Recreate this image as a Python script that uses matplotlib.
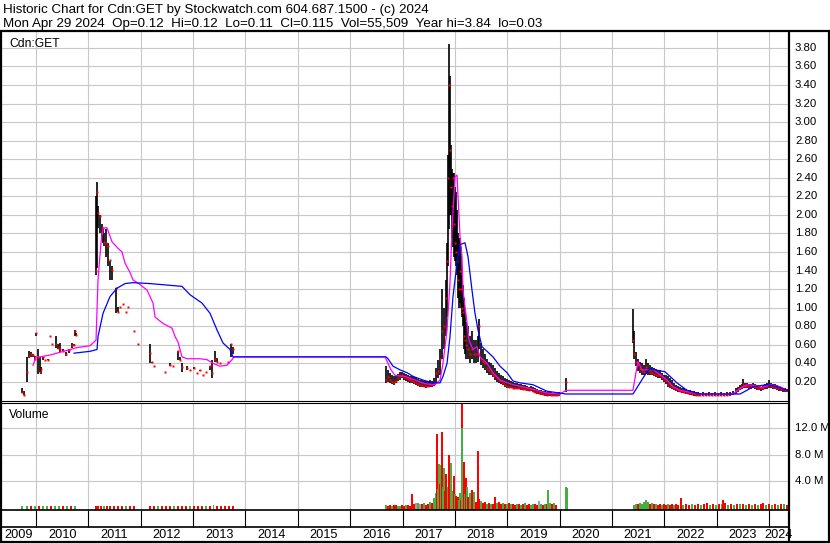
import numpy as np
import matplotlib
matplotlib.use("Agg")
import matplotlib.pyplot as plt
from matplotlib.lines import Line2D

plt.rcParams["font.family"] = ["Liberation Sans", "DejaVu Sans"]

W, H = 830, 543

# ---------- data (decimal years, prices in $, volume in millions) ----------
bar_year = [
    2009.733, 2009.771, 2009.828, 2009.866, 2009.905, 2009.943, 2009.981, 2010.000,
    2010.038, 2010.076, 2010.095, 2010.134, 2010.172, 2010.229, 2010.267, 2010.305,
    2010.382, 2010.420, 2010.458, 2010.516, 2010.573, 2010.630, 2010.687, 2010.725,
    2010.745, 2010.764,
    2011.146, 2011.165, 2011.184, 2011.222, 2011.261, 2011.280, 2011.299, 2011.337,
    2011.375, 2011.413, 2011.452, 2011.528, 2011.566, 2011.604, 2011.662, 2011.719,
    2011.757, 2011.872, 2011.948,
    2012.177, 2012.216, 2012.254, 2012.464, 2012.559, 2012.616, 2012.712, 2012.750,
    2012.788, 2012.884, 2012.941, 2013.018, 2013.075, 2013.132, 2013.190, 2013.247,
    2013.323, 2013.361, 2013.419, 2013.457, 2013.514, 2013.667, 2013.724, 2013.762,
    2016.685, 2016.723, 2016.761, 2016.799, 2016.837, 2016.876, 2016.914, 2016.952,
    2016.990, 2017.028, 2017.067, 2017.105, 2017.143, 2017.181, 2017.219, 2017.258,
    2017.296, 2017.334, 2017.372, 2017.410, 2017.449, 2017.487, 2017.525, 2017.563,
    2017.601, 2017.640, 2017.678, 2017.716, 2017.754, 2017.792, 2017.831, 2017.850,
    2017.869, 2017.888, 2017.907, 2017.926, 2017.945, 2017.964, 2017.983, 2018.003,
    2018.022, 2018.041, 2018.060, 2018.079, 2018.098, 2018.117, 2018.136, 2018.155,
    2018.174, 2018.194, 2018.213, 2018.251, 2018.289, 2018.327, 2018.365, 2018.404,
    2018.442, 2018.461, 2018.499, 2018.537, 2018.575, 2018.614, 2018.652, 2018.690,
    2018.728, 2018.766, 2018.805, 2018.843, 2018.881, 2018.919, 2018.957, 2018.996,
    2019.034, 2019.072, 2019.110, 2019.148, 2019.187, 2019.225, 2019.263, 2019.301,
    2019.339, 2019.378, 2019.416, 2019.454, 2019.492, 2019.530, 2019.569, 2019.607,
    2019.645, 2019.683, 2019.721, 2019.760, 2019.798, 2019.836, 2019.874, 2019.912,
    2019.950, 2019.989, 2020.122,
    2021.402, 2021.421, 2021.459, 2021.497, 2021.536, 2021.574, 2021.612, 2021.650,
    2021.688, 2021.727, 2021.765, 2021.803, 2021.841, 2021.880, 2021.918, 2021.956,
    2021.994, 2022.032, 2022.071, 2022.109, 2022.147, 2022.185, 2022.223, 2022.262,
    2022.300, 2022.338, 2022.376, 2022.414, 2022.453, 2022.491, 2022.529, 2022.567,
    2022.605, 2022.644, 2022.682, 2022.739, 2022.796, 2022.854, 2022.911, 2022.968,
    2023.026, 2023.083, 2023.140, 2023.197, 2023.255, 2023.312, 2023.369, 2023.407,
    2023.446, 2023.484, 2023.503, 2023.541, 2023.579, 2023.617, 2023.656, 2023.694,
    2023.732, 2023.770, 2023.809, 2023.847, 2023.885, 2023.923, 2023.961, 2024.000,
    2024.038, 2024.076, 2024.114, 2024.152, 2024.191, 2024.229, 2024.267, 2024.305,
    2024.343,
]
bar_hi = [
    0.13, 0.10, 0.47, 0.53, 0.52, 0.50, 0.48, 0.73,
    0.56, 0.47, 0.36, 0.47, 0.44, 0.45, 0.70, 0.61,
    0.70, 0.61, 0.62, 0.55, 0.52, 0.55, 0.62, 0.61,
    0.76, 0.73,
    2.20, 2.36, 2.10, 2.00, 1.90, 1.86, 1.80, 1.85,
    1.70, 1.50, 1.45, 1.21, 1.01, 1.01, 1.04, 0.95,
    1.01, 0.75, 0.61,
    0.61, 0.41, 0.37, 0.31, 0.40, 0.37, 0.53, 0.47,
    0.40, 0.37, 0.33, 0.36, 0.30, 0.33, 0.28, 0.31,
    0.37, 0.44, 0.53, 0.46, 0.40, 0.42, 0.61, 0.58,
    0.37, 0.33, 0.30, 0.27, 0.26, 0.26, 0.29, 0.31,
    0.31, 0.30, 0.29, 0.28, 0.26, 0.26, 0.25, 0.25,
    0.23, 0.22, 0.22, 0.21, 0.21, 0.21, 0.22, 0.21,
    0.24, 0.35, 0.44, 0.55, 1.20, 1.00, 1.30, 1.70,
    2.65, 3.84, 3.50, 2.75, 2.50, 2.45, 2.45, 2.30,
    2.25, 2.05, 1.80, 1.75, 1.75, 1.65, 1.35, 1.25,
    1.10, 0.95, 0.85, 0.80, 0.70, 0.75, 0.65, 0.65,
    0.70, 0.88, 0.62, 0.55, 0.50, 0.45, 0.42, 0.40,
    0.38, 0.35, 0.32, 0.30, 0.28, 0.26, 0.24, 0.23,
    0.22, 0.21, 0.20, 0.19, 0.19, 0.18, 0.18, 0.17,
    0.17, 0.16, 0.15, 0.16, 0.15, 0.13, 0.12, 0.11,
    0.11, 0.10, 0.10, 0.09, 0.10, 0.09, 0.08, 0.08,
    0.08, 0.09, 0.24,
    0.99, 0.75, 0.52, 0.45, 0.42, 0.40, 0.38, 0.45,
    0.40, 0.38, 0.36, 0.35, 0.34, 0.33, 0.33, 0.30,
    0.28, 0.27, 0.26, 0.24, 0.22, 0.19, 0.17, 0.16,
    0.15, 0.14, 0.13, 0.12, 0.11, 0.11, 0.10, 0.10,
    0.09, 0.09, 0.08, 0.09, 0.08, 0.09, 0.08, 0.09,
    0.08, 0.09, 0.08, 0.09, 0.09, 0.10, 0.13, 0.15,
    0.17, 0.18, 0.23, 0.19, 0.19, 0.18, 0.18, 0.19,
    0.18, 0.17, 0.16, 0.15, 0.17, 0.18, 0.19, 0.22,
    0.19, 0.18, 0.18, 0.17, 0.16, 0.15, 0.14, 0.13,
    0.12,
]
bar_lo = [
    0.08, 0.06, 0.20, 0.46, 0.47, 0.47, 0.44, 0.69,
    0.29, 0.31, 0.29, 0.44, 0.44, 0.44, 0.70, 0.61,
    0.57, 0.55, 0.52, 0.52, 0.48, 0.51, 0.57, 0.59,
    0.69, 0.71,
    1.35, 1.43, 1.86, 1.80, 1.75, 1.70, 1.66, 1.55,
    1.45, 1.30, 1.30, 0.94, 0.95, 1.01, 1.04, 0.95,
    1.01, 0.75, 0.61,
    0.40, 0.40, 0.37, 0.31, 0.37, 0.37, 0.44, 0.44,
    0.31, 0.33, 0.33, 0.34, 0.30, 0.32, 0.28, 0.31,
    0.33, 0.24, 0.41, 0.41, 0.40, 0.42, 0.47, 0.50,
    0.19, 0.20, 0.19, 0.18, 0.17, 0.19, 0.21, 0.22,
    0.24, 0.22, 0.21, 0.20, 0.19, 0.19, 0.18, 0.17,
    0.16, 0.15, 0.15, 0.15, 0.14, 0.15, 0.15, 0.15,
    0.16, 0.19, 0.24, 0.28, 0.45, 0.55, 0.70, 0.90,
    1.45, 1.85, 2.00, 2.00, 1.75, 1.65, 1.55, 1.50,
    1.45, 1.35, 1.10, 1.00, 1.05, 1.00, 0.90, 0.80,
    0.55, 0.50, 0.45, 0.45, 0.40, 0.45, 0.40, 0.40,
    0.42, 0.55, 0.38, 0.35, 0.33, 0.30, 0.28, 0.27,
    0.25, 0.22, 0.20, 0.19, 0.18, 0.17, 0.15, 0.14,
    0.13, 0.13, 0.13, 0.12, 0.12, 0.12, 0.11, 0.11,
    0.11, 0.10, 0.10, 0.10, 0.09, 0.08, 0.07, 0.07,
    0.06, 0.06, 0.05, 0.05, 0.05, 0.05, 0.05, 0.05,
    0.05, 0.05, 0.09,
    0.62, 0.45, 0.37, 0.32, 0.30, 0.28, 0.27, 0.29,
    0.28, 0.28, 0.27, 0.26, 0.25, 0.24, 0.24, 0.22,
    0.20, 0.18, 0.15, 0.13, 0.12, 0.11, 0.10, 0.09,
    0.09, 0.08, 0.08, 0.07, 0.07, 0.06, 0.06, 0.05,
    0.05, 0.05, 0.05, 0.05, 0.05, 0.05, 0.05, 0.05,
    0.05, 0.05, 0.05, 0.05, 0.05, 0.06, 0.07, 0.09,
    0.11, 0.12, 0.13, 0.13, 0.13, 0.12, 0.12, 0.13,
    0.12, 0.11, 0.11, 0.10, 0.11, 0.12, 0.12, 0.13,
    0.13, 0.12, 0.12, 0.11, 0.10, 0.10, 0.09, 0.09,
    0.09,
]
bar_close = [
    0.09, 0.06, 0.31, 0.48, 0.50, 0.49, 0.45, 0.73,
    0.47, 0.31, 0.34, 0.47, 0.44, 0.44, 0.70, 0.61,
    0.61, 0.57, 0.55, 0.53, 0.50, 0.54, 0.60, 0.60,
    0.75, 0.71,
    1.40, 2.25, 2.02, 1.99, 1.80, 1.86, 1.71, 1.70,
    1.66, 1.51, 1.41, 1.21, 0.95, 1.01, 1.04, 0.95,
    1.01, 0.75, 0.61,
    0.51, 0.41, 0.37, 0.31, 0.38, 0.37, 0.53, 0.44,
    0.36, 0.35, 0.33, 0.35, 0.30, 0.33, 0.28, 0.31,
    0.37, 0.30, 0.45, 0.41, 0.40, 0.42, 0.61, 0.55,
    0.22, 0.25, 0.22, 0.20, 0.20, 0.21, 0.24, 0.26,
    0.27, 0.25, 0.24, 0.23, 0.22, 0.21, 0.20, 0.19,
    0.18, 0.17, 0.17, 0.16, 0.16, 0.16, 0.17, 0.17,
    0.19, 0.30, 0.32, 0.45, 0.75, 0.80, 1.10, 1.50,
    2.40, 3.40, 2.70, 2.30, 2.10, 2.40, 1.90, 1.70,
    1.60, 1.50, 1.30, 1.20, 1.40, 1.20, 1.00, 0.95,
    0.70, 0.65, 0.60, 0.55, 0.50, 0.55, 0.50, 0.50,
    0.50, 0.80, 0.45, 0.42, 0.40, 0.35, 0.33, 0.30,
    0.28, 0.26, 0.24, 0.22, 0.21, 0.19, 0.17, 0.16,
    0.15, 0.15, 0.14, 0.14, 0.13, 0.13, 0.13, 0.12,
    0.12, 0.12, 0.11, 0.12, 0.10, 0.09, 0.09, 0.08,
    0.08, 0.07, 0.07, 0.06, 0.07, 0.06, 0.06, 0.06,
    0.06, 0.07, 0.20,
    0.65, 0.50, 0.42, 0.38, 0.34, 0.32, 0.31, 0.36,
    0.33, 0.31, 0.30, 0.29, 0.28, 0.28, 0.27, 0.25,
    0.23, 0.21, 0.18, 0.16, 0.15, 0.13, 0.12, 0.11,
    0.10, 0.10, 0.09, 0.09, 0.08, 0.08, 0.07, 0.07,
    0.06, 0.06, 0.06, 0.06, 0.06, 0.06, 0.06, 0.06,
    0.06, 0.06, 0.06, 0.06, 0.07, 0.08, 0.10, 0.12,
    0.14, 0.16, 0.18, 0.16, 0.16, 0.15, 0.16, 0.16,
    0.15, 0.14, 0.13, 0.13, 0.14, 0.16, 0.16, 0.17,
    0.16, 0.15, 0.15, 0.14, 0.13, 0.12, 0.12, 0.11,
    0.11,
]

# short moving average (magenta)
ma_short_year = [
    2009.943, 2010.000, 2010.076, 2010.267, 2010.592, 2010.783, 2011.031, 2011.146,
    2011.184, 2011.241, 2011.280, 2011.356, 2011.452, 2011.566, 2011.643, 2011.700,
    2011.795, 2011.853, 2011.986, 2012.120, 2012.177, 2012.235, 2012.273, 2012.426,
    2012.597, 2012.655, 2012.712, 2012.750, 2012.788, 2012.884, 2013.132, 2013.266,
    2013.381, 2013.514, 2013.648, 2013.743, 2013.782, 2016.666, 2016.723, 2016.780,
    2016.857, 2017.048, 2017.143, 2017.239, 2017.334, 2017.430, 2017.621, 2017.716,
    2017.773, 2017.850, 2017.907, 2017.945, 2018.003, 2018.041, 2018.060, 2018.098,
    2018.136, 2018.155, 2018.232, 2018.270, 2018.346, 2018.423, 2018.480, 2018.614,
    2018.728, 2018.862, 2019.110, 2019.435, 2019.760, 2020.008, 2020.122, 2021.402,
    2021.459, 2021.497, 2021.574, 2021.784, 2021.918, 2022.051, 2022.166, 2022.300,
    2022.682, 2023.312, 2023.446, 2023.579, 2023.770, 2023.866, 2024.019, 2024.210,
    2024.343,
]
ma_short = [
    0.38, 0.47, 0.47, 0.49, 0.54, 0.57, 0.59, 0.65,
    1.30, 1.70, 1.86, 1.86, 1.71, 1.64, 1.60, 1.48,
    1.38, 1.30, 1.25, 1.19, 1.12, 1.05, 0.90, 0.83,
    0.78, 0.69, 0.63, 0.55, 0.47, 0.45, 0.45, 0.44,
    0.40, 0.37, 0.38, 0.44, 0.47, 0.47, 0.40, 0.33,
    0.27, 0.26, 0.24, 0.22, 0.20, 0.18, 0.17, 0.22,
    0.40, 0.76, 1.27, 1.84, 2.41, 2.43, 2.20, 1.77,
    1.55, 1.19, 0.84, 0.65, 0.55, 0.58, 0.47, 0.40,
    0.30, 0.22, 0.17, 0.13, 0.08, 0.07, 0.11, 0.11,
    0.30, 0.42, 0.33, 0.33, 0.28, 0.22, 0.15, 0.11,
    0.07, 0.07, 0.13, 0.17, 0.16, 0.14, 0.17, 0.15,
    0.11,
]

# long moving average (blue)
ma_long_year = [
    2010.726, 2011.031, 2011.165, 2011.184, 2011.280, 2011.413, 2011.547, 2011.700,
    2011.853, 2012.177, 2012.788, 2012.941, 2013.170, 2013.323, 2013.457, 2013.571,
    2013.705, 2013.762, 2016.685, 2016.723, 2016.818, 2016.952, 2017.086, 2017.200,
    2017.391, 2017.582, 2017.716, 2017.773, 2017.850, 2017.907, 2017.964, 2018.041,
    2018.098, 2018.194, 2018.251, 2018.327, 2018.384, 2018.442, 2018.518, 2018.614,
    2018.728, 2018.862, 2018.996, 2019.110, 2019.244, 2019.492, 2019.760, 2020.008,
    2020.122, 2021.402, 2021.536, 2021.670, 2021.727, 2022.013, 2022.109, 2022.242,
    2022.433, 2022.682, 2023.446, 2023.579, 2023.694, 2023.961, 2024.152, 2024.343,
]
ma_long = [
    0.51, 0.53, 0.55, 0.69, 0.94, 1.12, 1.21, 1.26,
    1.27, 1.26, 1.23, 1.14, 1.05, 0.94, 0.76, 0.62,
    0.55, 0.47, 0.47, 0.45, 0.37, 0.33, 0.30, 0.26,
    0.22, 0.19, 0.19, 0.26, 0.40, 0.69, 1.12, 1.48,
    1.68, 1.70, 1.55, 1.19, 0.94, 0.76, 0.58, 0.53,
    0.47, 0.37, 0.30, 0.21, 0.19, 0.17, 0.10, 0.08,
    0.07, 0.07, 0.19, 0.31, 0.34, 0.31, 0.26, 0.19,
    0.11, 0.07, 0.07, 0.11, 0.15, 0.17, 0.15, 0.11,
]

vol_year = [
    2009.733, 2009.828, 2009.905, 2009.981, 2010.057, 2010.134, 2010.210, 2010.286,
    2010.363, 2010.439, 2010.516, 2010.592, 2010.668, 2010.745,
    2011.146, 2011.184, 2011.241, 2011.299, 2011.356, 2011.413, 2011.490, 2011.566,
    2011.643, 2011.719, 2011.795, 2011.872,
    2012.177, 2012.254, 2012.330, 2012.407, 2012.483, 2012.559, 2012.636, 2012.712,
    2012.788, 2012.865, 2012.941, 2013.018, 2013.094, 2013.170, 2013.247, 2013.323,
    2013.390, 2013.457, 2013.533, 2013.610, 2013.686, 2013.762,
    2016.685, 2016.723, 2016.761, 2016.799, 2016.837, 2016.876, 2016.914, 2016.952,
    2016.990, 2017.028, 2017.067, 2017.105, 2017.143, 2017.181, 2017.219, 2017.258,
    2017.296, 2017.334, 2017.372, 2017.410, 2017.449, 2017.487, 2017.525, 2017.563,
    2017.601, 2017.640, 2017.659, 2017.678, 2017.697, 2017.716, 2017.735, 2017.754,
    2017.773, 2017.792, 2017.811, 2017.831, 2017.869, 2017.888, 2017.907, 2017.926,
    2017.945, 2017.964, 2017.983, 2018.003, 2018.022, 2018.041, 2018.060, 2018.079,
    2018.098, 2018.117, 2018.136, 2018.136, 2018.174, 2018.194, 2018.213, 2018.232,
    2018.251, 2018.289, 2018.327, 2018.346, 2018.365, 2018.404, 2018.442, 2018.461,
    2018.499, 2018.537, 2018.575, 2018.614, 2018.652, 2018.690, 2018.728, 2018.766,
    2018.805, 2018.843, 2018.881, 2018.919, 2018.957, 2018.996, 2019.034, 2019.072,
    2019.110, 2019.148, 2019.187, 2019.225, 2019.263, 2019.301, 2019.339, 2019.378,
    2019.416, 2019.454, 2019.492, 2019.530, 2019.569, 2019.607, 2019.645, 2019.683,
    2019.721, 2019.760, 2019.779, 2019.817, 2019.855, 2019.893, 2019.931, 2020.122,
    2020.141,
    2021.421, 2021.459, 2021.497, 2021.536, 2021.574, 2021.612, 2021.650, 2021.688,
    2021.727, 2021.765, 2021.803, 2021.841, 2021.880, 2021.918, 2021.956, 2021.994,
    2022.032, 2022.071, 2022.109, 2022.147, 2022.185, 2022.223, 2022.262, 2022.319,
    2022.357, 2022.414, 2022.472, 2022.529, 2022.586, 2022.644, 2022.701, 2022.758,
    2022.815, 2022.873, 2022.930, 2022.987, 2023.045, 2023.102, 2023.121, 2023.159,
    2023.216, 2023.274, 2023.331, 2023.388, 2023.446, 2023.503, 2023.560, 2023.617,
    2023.675, 2023.732, 2023.789, 2023.847, 2023.885, 2023.942, 2024.000, 2024.057,
    2024.114, 2024.172, 2024.229, 2024.286, 2024.343,
]
vol_m = [
    0.10, 0.15, 0.12, 0.18, 0.10, 0.15, 0.10, 0.12,
    0.15, 0.10, 0.12, 0.10, 0.15, 0.10,
    0.15, 0.12, 0.15, 0.12, 0.15, 0.12, 0.10, 0.12,
    0.10, 0.12, 0.10, 0.10,
    0.12, 0.10, 0.12, 0.10, 0.12, 0.15, 0.10, 0.12,
    0.15, 0.10, 0.12, 0.15, 0.10, 0.12, 0.10, 0.15,
    0.30, 0.12, 0.10, 0.15, 0.12, 0.15,
    0.30, 0.20, 0.30, 0.20, 0.25, 0.35, 0.20, 0.15,
    0.30, 0.20, 0.25, 0.30, 0.20, 1.90, 0.40, 0.60,
    0.60, 0.50, 0.40, 0.60, 0.30, 0.50, 0.70, 0.60,
    1.30, 2.20, 11.1, 2.80, 6.50, 3.50, 6.40, 11.4,
    3.00, 5.90, 2.50, 5.10, 3.00, 7.90, 3.00, 6.70,
    2.40, 1.80, 4.70, 2.00, 1.60, 1.20, 1.50, 1.00,
    2.20, 1.00, 15.7, 12.0, 6.90, 2.00, 4.40, 3.00,
    1.50, 2.20, 2.60, 1.20, 2.30, 0.80, 8.50, 1.20,
    0.90, 0.60, 0.80, 0.50, 0.60, 0.50, 0.40, 1.50,
    0.60, 0.70, 0.40, 0.60, 0.50, 0.40, 0.60, 0.40,
    0.50, 0.30, 0.40, 0.50, 0.30, 0.40, 0.60, 0.30,
    0.40, 0.30, 0.50, 0.40, 0.30, 0.90, 0.40, 0.30,
    0.50, 0.40, 2.60, 0.60, 0.40, 0.60, 0.30, 3.10,
    2.90,
    0.30, 0.50, 0.40, 0.60, 0.40, 0.80, 1.00, 0.70,
    0.50, 0.60, 0.40, 0.50, 0.30, 0.40, 0.30, 0.40,
    0.30, 0.50, 0.30, 0.40, 0.30, 0.40, 0.30, 1.40,
    0.30, 0.40, 0.30, 0.40, 0.30, 0.40, 0.30, 0.40,
    0.60, 0.30, 0.40, 0.30, 0.40, 0.50, 1.00, 0.60,
    0.30, 0.40, 0.30, 0.40, 0.50, 0.40, 0.30, 0.40,
    0.30, 0.50, 0.30, 0.40, 0.60, 0.30, 0.40, 0.30,
    0.40, 0.30, 0.40, 0.50, 0.30,
]
# g = up day (green), r = down day (red), k = unchanged (gray)
vol_dir = "".join([
    "ggrgrggrgg", "rgrg",
    "rrrgrrrrrgrr",
    "rrgrrrgrrrgrrrgr", "grrrrr",
    "grrgrrgg", "rrgrrrrk", "gkrgrrgr", "ggrggrgr", "ggrrgrrg",
    "ggrgrrrg", "grrgrgrg", "rgrrgrrr", "grrgrgrr", "grrgrgrg",
    "rrgrgrgr", "rggrrkgr", "grggrgrg", "g",
    "ggrggggg", "rgrgrrgr", "rgrrgrrr", "grrgrrgr", "rgrgrgrr",
    "grgrgrgr", "grgrrgrg", "rgrgr",
])

price_ticks = [0.20, 0.40, 0.60, 0.80, 1.00, 1.20, 1.40, 1.60, 1.80, 2.00,
               2.20, 2.40, 2.60, 2.80, 3.00, 3.20, 3.40, 3.60, 3.80]
vol_ticks = [4.0, 8.0, 12.0]
vol_tick_labels = ["4.0 M", "8.0 M", "12.0 M"]
year_bounds = list(range(2010, 2025))
year_labels = [str(y) for y in range(2009, 2025)]

title1 = "Historic Chart for Cdn:GET by Stockwatch.com 604.687.1500 - (c) 2024"
title2 = ("Mon Apr 29 2024  Op=0.12  Hi=0.12  Lo=0.11  Cl=0.115  "
          "Vol=55,509  Year hi=3.84  lo=0.03")

# ---------- layout helpers (pixel coordinates, y from top) ----------
def box(x0, y0, x1, y1):
    return [x0 / W, 1 - y1 / H, (x1 - x0) / W, (y1 - y0) / H]


def line(x0, y0, x1, y1, lw):
    fig.add_artist(Line2D([x0 / W, x1 / W], [1 - y0 / H, 1 - y1 / H],
                          transform=fig.transFigure, color="black",
                          lw=lw, solid_capstyle="butt"))


XLIM = (2009.331, 2024.382)
GRID = "#c8c8c8"
FS = 8.2

fig = plt.figure(figsize=(W / 100, H / 100), dpi=100)

ax_p = fig.add_axes(box(1, 31, 789, 400.5))
ax_v = fig.add_axes(box(1, 402.5, 789, 510))
ax_d = fig.add_axes(box(1, 510, 789, 541.5))
for ax in (ax_p, ax_v, ax_d):
    ax.set_xlim(*XLIM)
    ax.set_xticks([])
    ax.set_yticks([])
    for s in ax.spines.values():
        s.set_visible(False)

# ---------- price panel ----------
ax_p.set_ylim(0, 3.982)
for v in price_ticks:
    ax_p.axhline(v, color=GRID, lw=0.8, zorder=0)
    ax_p.text(1.0076, v, "%.2f" % v, transform=ax_p.get_yaxis_transform(),
              ha="left", va="center", fontsize=FS, clip_on=False)
for yb in year_bounds:
    ax_p.axvline(yb, color=GRID, lw=0.8, zorder=0)

ax_p.vlines(bar_year, bar_lo, bar_hi, color="black", lw=1.2, zorder=2)
ax_p.plot(bar_year, bar_close, ls="none", marker="s", ms=1.5,
          mfc="red", mec="none", zorder=3)
ax_p.plot(ma_short_year, ma_short, color="magenta", lw=0.9, zorder=4)
ax_p.plot(ma_long_year, ma_long, color="blue", lw=0.9, zorder=5)
ax_p.text(0.0104, 0.958, "Cdn:GET", transform=ax_p.transAxes, fontsize=FS + 0.5,
          ha="left", va="baseline")

# ---------- volume panel ----------
vlo = -0.47
ax_v.set_ylim(vlo, 15.94)
for v, lab in zip(vol_ticks, vol_tick_labels):
    ax_v.axhline(v, color=GRID, lw=0.8, zorder=0)
    ax_v.text(1.0076, v, lab, transform=ax_v.get_yaxis_transform(),
              ha="left", va="center", fontsize=FS, clip_on=False)
for yb in year_bounds:
    ax_v.axvline(yb, color=GRID, lw=0.8, zorder=0)

cmap = {"g": "#44b044", "r": "#ff0000", "k": "#a0a0a0"}
vol_colors = [cmap[c] for c in vol_dir]
heights = np.array(vol_m) - vlo
ax_v.bar(vol_year, heights, bottom=vlo, width=0.022, color=vol_colors,
         linewidth=0, zorder=2)
ax_v.text(0.0104, 0.86, "Volume", transform=ax_v.transAxes, fontsize=FS + 0.5,
          ha="left", va="baseline")

# ---------- date rows ----------
ax_d.set_ylim(0, 1)
ax_d.vlines(year_bounds, 0.46, 1.0, color="black", lw=0.8)
centers = [(XLIM[0] + 2010) / 2] + [y + 0.5 for y in range(2010, 2024)] + \
          [(2024 + XLIM[1]) / 2]
for c, lab in zip(centers, year_labels):
    ax_d.text(c, 0.21, lab, ha="center", va="center", fontsize=FS + 1.0)

# ---------- frame lines ----------
line(0, 31, 830, 31, 1.6)
line(1, 31, 1, 542, 1.6)
line(829, 31, 829, 542, 1.6)
line(789, 31, 789, 542, 1.6)
line(1, 400.5, 789, 400.5, 0.8)
line(1, 402.5, 789, 402.5, 0.8)
line(1, 510, 789, 510, 1.2)
line(1, 527, 789, 527, 1.2)
line(0, 541.8, 830, 541.8, 1.6)

# ---------- header ----------
fig.text(3 / W, 1 - 13.3 / H, title1, fontsize=9.6, va="baseline")
fig.text(3 / W, 1 - 26.7 / H, title2, fontsize=9.6, va="baseline")

fig.savefig("out.png", dpi=100)
